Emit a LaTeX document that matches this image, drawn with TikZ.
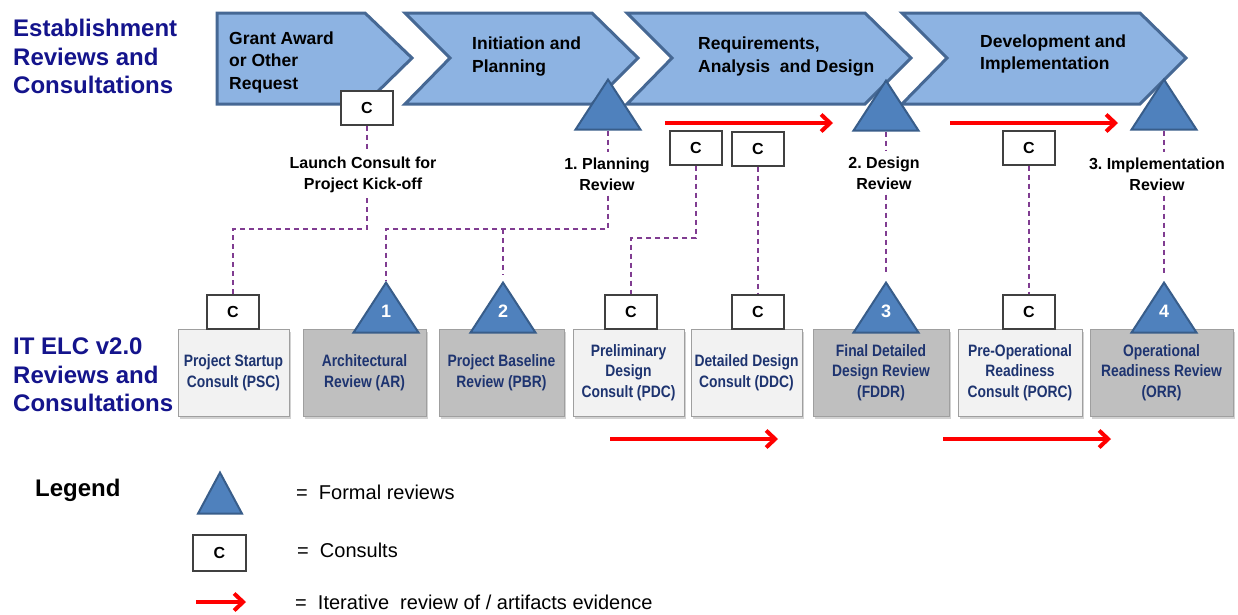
\documentclass[tikz,border=0pt]{standalone}
\usepackage{fontspec}
\setmainfont{Liberation Sans}
\newfontfamily\narrowfont[FakeStretch=0.84]{Liberation Sans}
\usetikzlibrary{positioning}
\usetikzlibrary{shapes.geometric}
\usetikzlibrary{arrows.meta}
\usetikzlibrary{shadows}
\definecolor{phaseblue}{RGB}{141,179,226}
\definecolor{phaseedge}{RGB}{70,104,148}
\definecolor{reviewblue}{RGB}{79,129,189}
\definecolor{reviewedge}{RGB}{56,93,138}
\definecolor{headblue}{RGB}{20,20,140}
\definecolor{boxtext}{RGB}{30,52,112}
\definecolor{linkpurple}{RGB}{128,60,145}
\definecolor{darkbox}{RGB}{191,191,191}
\definecolor{lightbox}{RGB}{242,242,242}
\tikzset{
	every node/.style = {inner sep=0pt},
	phase/.style = {fill=phaseblue, draw=phaseedge, line width=3pt, line join=miter},
	heading/.style = {text=headblue, align=left, font=\bfseries\fontsize{24}{28.5}\selectfont},
	phasetext/.style = {anchor=west, align=left, font=\bfseries\fontsize{17.5}{22.5}\selectfont},
	midlabel/.style = {align=center, inner sep=5pt, font=\bfseries\fontsize{16}{21}\selectfont},
	revtri/.style = {isosceles triangle, isosceles triangle stretches, shape border rotate=90,
		minimum width=65, minimum height=50, fill=reviewblue, draw=reviewedge, line width=2pt},
	revnum/.style = {text=white, yshift=4pt, font=\bfseries\fontsize{18}{18}\selectfont},
	cbox/.style = {draw=black!75, fill=white, line width=1.2pt, minimum width=52, minimum height=34,
		font=\bfseries\fontsize{16}{16}\selectfont},
	elcbox/.style = {draw=gray!75, line width=1pt, minimum height=87, align=center, text=boxtext,
		font=\narrowfont\bfseries\fontsize{16.5}{20.5}\selectfont,
		drop shadow={shadow xshift=2pt, shadow yshift=-2.5pt, opacity=0.35}},
	rvbox/.style = {elcbox, fill=darkbox},
	csbox/.style = {elcbox, fill=lightbox},
	link/.style = {draw=linkpurple, line width=1.3pt, dash pattern=on 5pt off 4pt},
	iterate/.style = {draw=red, line width=4pt, -{Straight Barb[length=9pt, width=17pt]}},
	legendtext/.style = {anchor=base west, font=\fontsize{20}{24}\selectfont}
}
\begin{document}
\frenchspacing
\begin{tikzpicture}[x=1pt, y=-1pt]
	\useasboundingbox[fill=white] (0,0) rectangle (1238,614);

	% phases
	\draw[phase] (217,13) -- (365,13) -- (412,58) -- (365,104) -- (217,104) -- cycle;
	\foreach \xa/\xb in {405/592, 627/865, 902/1140}
		\draw[phase] (\xa,13) -- (\xb,13) -- (\xb+46,58) -- (\xb,104) -- (\xa,104) -- (\xa+45,58) -- cycle;

	\node[phasetext] (phGrant) at (229,62) {Grant Award\\or Other\\Request};
	\node[phasetext] (phInit) at (472,56.5) {Initiation and\\Planning};
	\node[phasetext] (phReq) at (698,56.5) {Requirements,\\Analysis\ \ and Design};
	\node[phasetext] (phDev) at (980,54) {Development and\\Implementation};

	\node[heading, anchor=north west] (hdEst) at (13,19) {Establishment\\Reviews and\\Consultations};
	\node[heading, anchor=north west] (hdElc) at (13,338) {IT ELC v2.0\\Reviews and\\Consultations};

	% formal reviews of the establishment
	\node[revtri, anchor=north] (triPlan) at (608,77) {};
	\node[revtri, anchor=north] (triDesign) at (886,78) {};
	\node[revtri, anchor=north] (triImpl) at (1164,77) {};

	\node[cbox] (cLaunch) at (367,108) {C};
	\node[cbox] (cPrelim) at (696,148) {C};
	\node[cbox] (cDetail) at (758,149) {C};
	\node[cbox] (cPreOp) at (1029,148) {C};

	\node[midlabel] (lblLaunch) at (363,175) {Launch Consult for\\Project Kick-off};
	\node[midlabel] (lblPlan) at (607,174) {1. Planning\\Review};
	\node[midlabel] (lblDesign) at (884,173) {2. Design\\Review};
	\node[midlabel] (lblImpl) at (1157,174) {3. Implementation\\Review};

	% IT ELC reviews and consultations
	\node[csbox, minimum width=111] (bxPSC) at (233.5,372.5) {Project Startup\\Consult (PSC)};
	\node[rvbox, minimum width=123] (bxAR) at (364.5,372.5) {Architectural\\Review (AR)};
	\node[rvbox, minimum width=125] (bxPBR) at (501.5,372.5) {Project Baseline\\Review (PBR)};
	\node[csbox, minimum width=111] (bxPDC) at (628.5,372.5) {Preliminary\\Design\\Consult (PDC)};
	\node[csbox, minimum width=111] (bxDDC) at (746.5,372.5) {Detailed Design\\Consult (DDC)};
	\node[rvbox, minimum width=136] (bxFDDR) at (881,372.5) {Final Detailed\\Design Review\\(FDDR)};
	\node[csbox, minimum width=124] (bxPORC) at (1020,372.5) {Pre-Operational\\Readiness\\Consult (PORC)};
	\node[rvbox, minimum width=143] (bxORR) at (1161.5,372.5) {Operational\\Readiness Review\\(ORR)};

	\node[revtri, anchor=north, label={[revnum]center:1}] (triAR) at (386,280) {};
	\node[revtri, anchor=north, label={[revnum]center:2}] (triPBR) at (503,280) {};
	\node[revtri, anchor=north, label={[revnum]center:3}] (triFDDR) at (886,280) {};
	\node[revtri, anchor=north, label={[revnum]center:4}] (triORR) at (1164,280) {};

	\node[cbox] (cPSC) at (233,312) {C};
	\node[cbox] (cPDC) at (631,312) {C};
	\node[cbox] (cDDC) at (758,312) {C};
	\node[cbox] (cPORC) at (1029,312) {C};

	% dashed links
	\coordinate (bendLow) at (0,229);
	\coordinate (bendPrelim) at (0,238);
	\draw[link] (cLaunch.south) -- (cLaunch.south |- lblLaunch.north);
	\draw[link] (lblLaunch.south -| cLaunch.south) -- (cLaunch.south |- bendLow) -| (cPSC.north);
	\draw[link] (triPlan.south) -- (triPlan.south |- lblPlan.north);
	\draw[link] (lblPlan.south -| triPlan.south) -- (triPlan.south |- bendLow) -| (triAR.north);
	\draw[link, shorten >=5pt] (triPBR.north |- bendLow) -- (triPBR.north);
	\draw[link] (cPrelim.south) -- (cPrelim.south |- bendPrelim) -| (cPDC.north);
	\draw[link] (cDetail.south) -- (cDDC.north);
	\draw[link] (triDesign.south) -- (triDesign.south |- lblDesign.north);
	\draw[link, shorten >=7pt] (lblDesign.south -| triDesign.south) -- (triFDDR.north);
	\draw[link] (cPreOp.south) -- (cPORC.north);
	\draw[link] (triImpl.south) -- (triImpl.south |- lblImpl.north);
	\draw[link, shorten >=7pt] (lblImpl.south -| triImpl.south) -- (triORR.north);

	% iterative reviews
	\coordinate (itTopA) at (665,123);
	\coordinate (itTopB) at (833,123);
	\coordinate (itTopC) at (950,123);
	\coordinate (itTopD) at (1118,123);
	\coordinate (itLowA) at (610,439);
	\coordinate (itLowB) at (778,439);
	\coordinate (itLowC) at (943,439);
	\coordinate (itLowD) at (1111,439);
	\draw[iterate] (itTopA) -- (itTopB);
	\draw[iterate] (itTopC) -- (itTopD);
	\draw[iterate] (itLowA) -- (itLowB);
	\draw[iterate] (itLowC) -- (itLowD);

	% legend
	\node[anchor=base west, font=\bfseries\fontsize{24}{28}\selectfont] (lgTitle) at (35,496) {Legend};
	\node[revtri, anchor=north, minimum width=44, minimum height=41] (lgReview) at (220,470) {};
	\node[cbox, minimum width=53, minimum height=36] (lgConsult) at (219.5,553) {C};
	\coordinate (lgArrowA) at (196,602);
	\coordinate (lgArrowB) at (246,602);
	\draw[iterate] (lgArrowA) -- (lgArrowB);
	\node[legendtext] (lgReviewTxt) at (296,499) {=\ \ Formal reviews};
	\node[legendtext] (lgConsultTxt) at (297,557) {=\ \ Consults};
	\node[legendtext] (lgIterTxt) at (295,609) {=\ \ Iterative\ \ review of / artifacts evidence};
\end{tikzpicture}
\end{document}
